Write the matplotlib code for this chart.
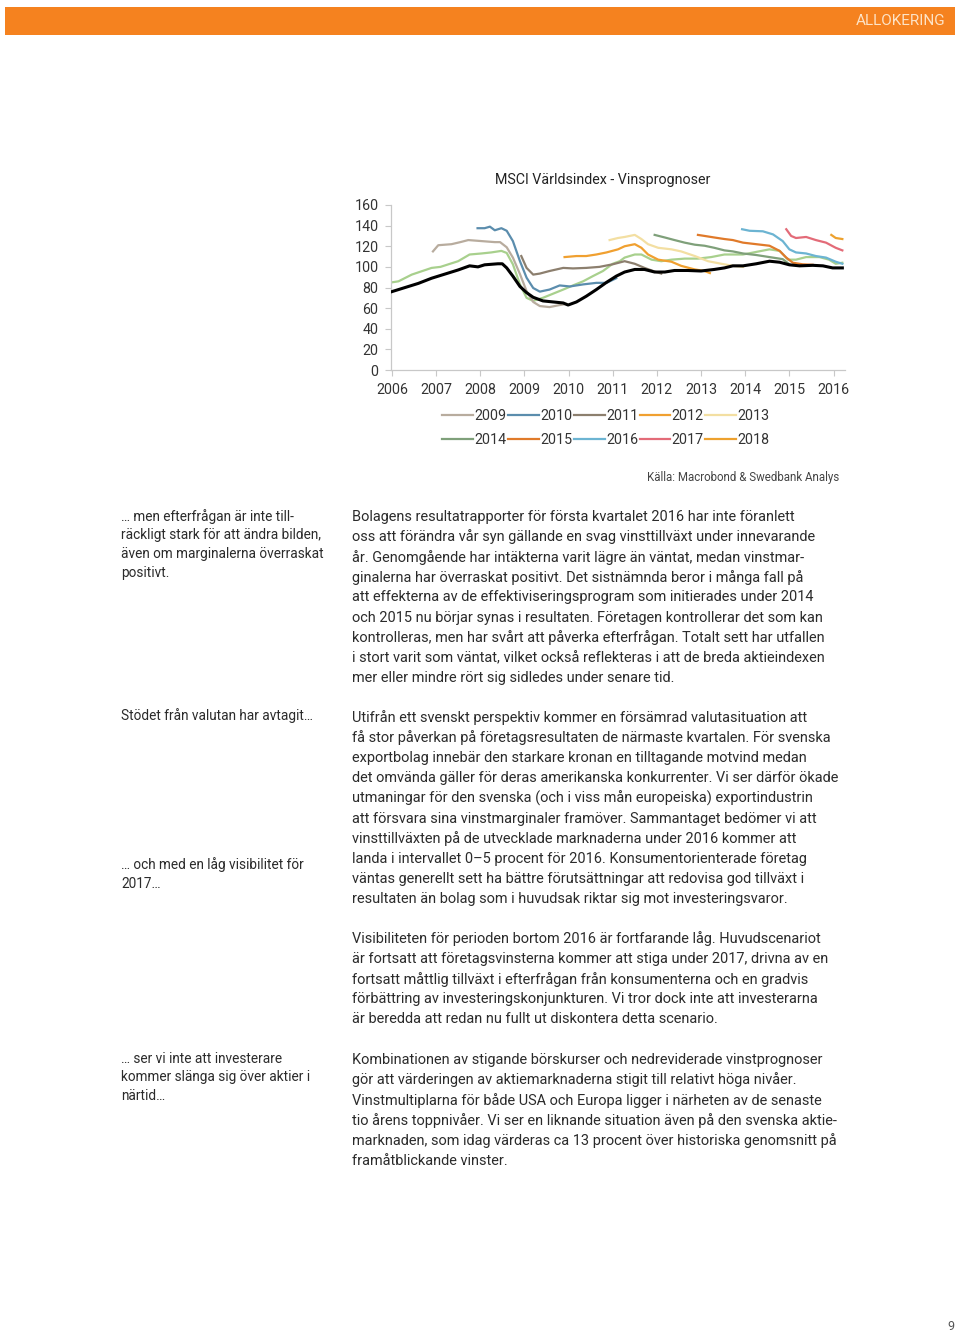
import matplotlib
matplotlib.use("Agg")
import matplotlib.pyplot as plt
from matplotlib.patches import Rectangle

# ---------------- data ----------------
years_ticks = [2006, 2007, 2008, 2009, 2010, 2011, 2012, 2013, 2014, 2015, 2016]
y_ticks = [0, 20, 40, 60, 80, 100, 120, 140, 160]

black_t = [2006.0, 2006.3, 2006.6, 2006.9, 2007.2, 2007.5, 2007.76, 2007.95, 2008.1, 2008.25, 2008.4, 2008.5,
           2008.6, 2008.74, 2008.9, 2009.05, 2009.2, 2009.42, 2009.65, 2009.88, 2009.99, 2010.18, 2010.4,
           2010.63, 2010.86, 2011.08, 2011.27, 2011.5, 2011.72, 2011.95, 2012.18, 2012.4, 2012.7, 2013.0,
           2013.3, 2013.53, 2013.72, 2013.95, 2014.25, 2014.55, 2014.78, 2015.0, 2015.23, 2015.53, 2015.76,
           2015.98, 2016.2]
black_v = [76, 80, 84, 89, 93, 97, 101, 100, 102, 102.5, 103, 103, 99, 91, 81, 75, 70.5, 67, 66, 65, 63, 66,
           71.5, 78, 85, 91, 95, 97.5, 97.5, 95, 95, 96.5, 96.5, 96, 97.5, 99, 101, 101, 103, 105.5, 104.5,
           102, 101, 101.5, 101, 99, 99]

fwd_t = [2006.0, 2006.15, 2006.45, 2006.9, 2007.1, 2007.5, 2007.76, 2008.03, 2008.25, 2008.48, 2008.6,
         2008.74, 2008.9, 2009.05, 2009.2, 2009.42, 2009.65, 2009.88, 2010.1, 2010.33, 2010.55, 2010.78,
         2011.0, 2011.16, 2011.27, 2011.5, 2011.65, 2011.88, 2012.1, 2012.33, 2012.63, 2012.93, 2013.23,
         2013.53, 2013.72, 2013.95, 2014.25, 2014.55, 2014.78, 2014.97, 2015.15, 2015.38, 2015.68, 2015.9,
         2016.05, 2016.2]
fwd_v = [85, 86, 92.5, 99, 100, 105.5, 112, 113, 114, 115.5, 113.5, 102.5, 83, 70, 67, 70, 74, 78, 82, 86,
         91, 96, 103, 105.5, 109, 112, 112, 107, 105.5, 107, 108, 108, 109.5, 112, 112, 112, 114.5, 117,
         115.5, 107, 107, 109.5, 109.5, 107, 103, 104]

t2009 = [2006.93, 2007.05, 2007.2, 2007.35, 2007.55, 2007.73, 2008.03, 2008.33, 2008.45, 2008.6, 2008.74,
         2008.9, 2009.05, 2009.2, 2009.35, 2009.57, 2009.8, 2009.95]
v2009 = [115, 121, 121.5, 122, 124, 126, 125, 124, 124, 119, 109, 93, 76.5, 66, 62, 61, 63, 64]

t2010 = [2007.94, 2008.1, 2008.22, 2008.33, 2008.48, 2008.6, 2008.74, 2008.9, 2009.05, 2009.2, 2009.35,
         2009.57, 2009.8, 2010.03, 2010.33, 2010.63, 2010.86, 2011.08]
v2010 = [137.5, 137.5, 139, 135.5, 137.5, 135, 125, 105.5, 89.5, 79.5, 76, 78, 82, 81, 83, 84.5, 84.5, 89]

t2011 = [2008.93, 2009.05, 2009.2, 2009.35, 2009.57, 2009.88, 2010.1, 2010.4, 2010.7, 2011.0, 2011.27,
         2011.5, 2011.72, 2011.95, 2012.1]
v2011 = [110.5, 99, 92.5, 93.5, 96, 99, 98.5, 99, 100, 102.5, 105.5, 103, 99, 95.5, 93.5]

t2012 = [2009.91, 2010.18, 2010.4, 2010.63, 2010.86, 2011.12, 2011.27, 2011.5, 2011.65, 2011.8, 2012.03,
         2012.33, 2012.55, 2012.86, 2013.08, 2013.2]
v2012 = [109.5, 110.5, 110.5, 112, 114, 117, 120, 122, 118.5, 112, 107, 105, 101, 97.5, 96, 94]

t2013 = [2010.93, 2011.12, 2011.27, 2011.5, 2011.65, 2011.8, 2012.03, 2012.33, 2012.55, 2012.86, 2013.16,
         2013.46, 2013.72, 2013.95]
v2013 = [126, 128, 129, 131, 127, 122, 118.5, 117, 115, 110.5, 105.5, 103, 101, 100]

t2014 = [2011.95, 2012.18, 2012.4, 2012.63, 2012.86, 2013.08, 2013.3, 2013.53, 2013.72, 2013.95, 2014.25,
         2014.55, 2014.85, 2015.0]
v2014 = [131, 128.5, 126, 123.5, 121.5, 120.5, 118.5, 116, 115, 113, 111.5, 109.5, 107.5, 102.5]

t2015 = [2012.93, 2013.08, 2013.3, 2013.53, 2013.72, 2013.95, 2014.25, 2014.55, 2014.78, 2014.93, 2015.08,
         2015.3, 2015.53]
v2015 = [131, 130, 128.5, 127, 126, 123.5, 122, 120.5, 115.5, 109, 104, 102.5, 102]

t2016 = [2013.93, 2014.1, 2014.4, 2014.63, 2014.85, 2015.0, 2015.15, 2015.38, 2015.6, 2015.83, 2016.05, 2016.2]
v2016 = [136.5, 135, 134.5, 131.5, 125, 117, 114, 113, 110.5, 109, 105, 103]

t2017 = [2014.93, 2015.04, 2015.15, 2015.38, 2015.6, 2015.83, 2016.05, 2016.2]
v2017 = [136.5, 130, 128, 129, 126, 123.5, 118.5, 116]

t2018 = [2015.95, 2016.05, 2016.2]
v2018 = [131, 128, 127]

series_labels = ["2009", "2010", "2011", "2012", "2013", "2014", "2015", "2016", "2017", "2018"]
series_t = [t2009, t2010, t2011, t2012, t2013, t2014, t2015, t2016, t2017, t2018]
series_v = [v2009, v2010, v2011, v2012, v2013, v2014, v2015, v2016, v2017, v2018]
series_colors = ["#B8AC9E", "#5B8DAD", "#8C7F6E", "#F0A030", "#F3DFA2",
                 "#7FA07A", "#E07A2A", "#6CB4D2", "#E36B78", "#EDA12E"]

chart_title = "MSCI Världsindex - Vinsprognoser"
source_text = "Källa: Macrobond & Swedbank Analys"
header_text = "ALLOKERING"
page_number = "9"

side_blocks = [
    (517, ["… men efterfrågan är inte till-", "räckligt stark för att ändra bilden,",
           "även om marginalerna överraskat", "positivt."]),
    (716, ["Stödet från valutan har avtagit…"]),
    (865, ["… och med en låg visibilitet för", "2017…"]),
    (1059, ["… ser vi inte att investerare", "kommer slänga sig över aktier i", "närtid…"]),
]

body_blocks = [
    (516, ["Bolagens resultatrapporter för första kvartalet 2016 har inte föranlett",
           "oss att förändra vår syn gällande en svag vinsttillväxt under innevarande",
           "år. Genomgående har intäkterna varit lägre än väntat, medan vinstmar-",
           "ginalerna har överraskat positivt. Det sistnämnda beror i många fall på",
           "att effekterna av de effektiviseringsprogram som initierades under 2014",
           "och 2015 nu börjar synas i resultaten. Företagen kontrollerar det som kan",
           "kontrolleras, men har svårt att påverka efterfrågan. Totalt sett har utfallen",
           "i stort varit som väntat, vilket också reflekteras i att de breda aktieindexen",
           "mer eller mindre rört sig sidledes under senare tid."]),
    (717, ["Utifrån ett svenskt perspektiv kommer en försämrad valutasituation att",
           "få stor påverkan på företagsresultaten de närmaste kvartalen. För svenska",
           "exportbolag innebär den starkare kronan en tilltagande motvind medan",
           "det omvända gäller för deras amerikanska konkurrenter. Vi ser därför ökade",
           "utmaningar för den svenska (och i viss mån europeiska) exportindustrin",
           "att försvara sina vinstmarginaler framöver. Sammantaget bedömer vi att",
           "vinsttillväxten på de utvecklade marknaderna under 2016 kommer att",
           "landa i intervallet 0–5 procent för 2016. Konsumentorienterade företag",
           "väntas generellt sett ha bättre förutsättningar att redovisa god tillväxt i",
           "resultaten än bolag som i huvudsak riktar sig mot investeringsvaror."]),
    (938, ["Visibiliteten för perioden bortom 2016 är fortfarande låg. Huvudscenariot",
           "är fortsatt att företagsvinsterna kommer att stiga under 2017, drivna av en",
           "fortsatt måttlig tillväxt i efterfrågan från konsumenterna och en gradvis",
           "förbättring av investeringskonjunkturen. Vi tror dock inte att investerarna",
           "är beredda att redan nu fullt ut diskontera detta scenario."]),
    (1059, ["Kombinationen av stigande börskurser och nedreviderade vinstprognoser",
            "gör att värderingen av aktiemarknaderna stigit till relativt höga nivåer.",
            "Vinstmultiplarna för både USA och Europa ligger i närheten av de senaste",
            "tio årens toppnivåer. Vi ser en liknande situation även på den svenska aktie-",
            "marknaden, som idag värderas ca 13 procent över historiska genomsnitt på",
            "framåtblickande vinster."]),
]

# ---------------- figure ----------------
W, H = 960, 1333
fig = plt.figure(figsize=(W / 100, H / 100), dpi=100)
fig.patch.set_facecolor("white")

def fy(y):
    return 1 - y / H

def fx(x):
    return x / W

TEXT_FONT = ["Roboto", "DejaVu Sans"]

# header bar
fig.patches.append(Rectangle((fx(5), fy(35)), fx(950), 28 / H, transform=fig.transFigure,
                             facecolor="#F5821F", edgecolor="none"))
fig.text(fx(945), fy(21), header_text, ha="right", va="center", fontsize=11,
         color="#FDE3C6", family=TEXT_FONT)

# chart
ax = fig.add_axes([fx(391), fy(370), fx(845 - 391), (370 - 205) / H])
ax.plot(fwd_t, fwd_v, color="#A8D08D", lw=1.6, zorder=2)
for t, v, c, lab in zip(series_t, series_v, series_colors, series_labels):
    ax.plot(t, v, color=c, lw=1.6, label=lab, zorder=3)
ax.plot(black_t, black_v, color="black", lw=2.2, zorder=4)

ax.set_xlim(2005.98, 2016.26)
ax.set_ylim(0, 160)
ax.set_xticks(years_ticks)
ax.set_xticklabels([str(y) for y in years_ticks])
ax.set_yticks(y_ticks)
ax.set_yticklabels([str(y) for y in y_ticks])
for s in ["top", "right"]:
    ax.spines[s].set_visible(False)
for s in ["left", "bottom"]:
    ax.spines[s].set_color("#C8C8C8")
    ax.spines[s].set_linewidth(0.9)
ax.tick_params(axis="both", colors="#C8C8C8", length=4, width=0.8, labelcolor="#333333",
               labelsize=10.3)
ax.tick_params(axis="y", pad=5)
ax.tick_params(axis="x", pad=5)
for lbl in ax.get_xticklabels() + ax.get_yticklabels():
    lbl.set_family(TEXT_FONT)

fig.text(fx(603), fy(180), chart_title, ha="center", va="center", fontsize=10.3,
         color="#222222", family=TEXT_FONT)

# legend (row-wise order)
handles, labels = ax.get_legend_handles_labels()
order = [0, 5, 1, 6, 2, 7, 3, 8, 4, 9]
leg = fig.legend([handles[i] for i in order], [labels[i] for i in order], ncol=5,
                 loc="center", bbox_to_anchor=(fx(606), fy(428)), frameon=False,
                 handlelength=2.15, handletextpad=0.1, columnspacing=0.1,
                 labelspacing=0.75, prop={"family": TEXT_FONT, "size": 10.3})
for t in leg.get_texts():
    t.set_color("#333333")

fig.text(fx(839), fy(477), source_text, ha="right", va="center", fontsize=8.3,
         color="#444444", family=TEXT_FONT)

# side column
for y0, lines in side_blocks:
    for i, line in enumerate(lines):
        fig.text(fx(121), fy(y0 + i * 18.5), line, ha="left", va="center", fontsize=9.8,
                 color="#2b2b2b", family=TEXT_FONT)

# body text
for y0, lines in body_blocks:
    for i, line in enumerate(lines):
        fig.text(fx(352), fy(y0 + 0.8 + i * 20.15), line, ha="left", va="center", fontsize=10.45,
                 color="#2b2b2b", family=TEXT_FONT)

fig.text(fx(951), fy(1326), page_number, ha="center", va="center", fontsize=9,
         color="#555555", family=TEXT_FONT)

fig.savefig("out.png", dpi=100, facecolor="white")
